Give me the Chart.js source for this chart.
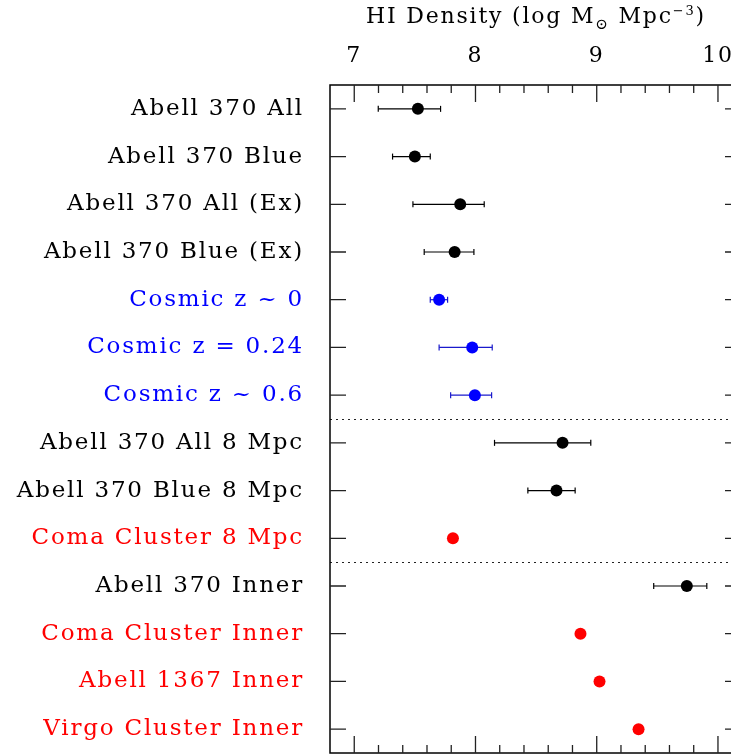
<!DOCTYPE html>
<html><head><meta charset="utf-8">
<script src="https://cdn.jsdelivr.net/npm/chart.js@4.4.0/dist/chart.umd.min.js"></script>
<style>html,body{margin:0;padding:0;background:#fff;overflow:hidden;width:731px;height:756px}canvas{display:block}</style>
</head><body><canvas id="c" width="745" height="756" style="width:745px;height:756px"></canvas>
<script>
const categories = ["Abell 370 All","Abell 370 Blue","Abell 370 All (Ex)","Abell 370 Blue (Ex)","Cosmic z ~ 0","Cosmic z = 0.24","Cosmic z ~ 0.6","Abell 370 All 8 Mpc","Abell 370 Blue 8 Mpc","Coma Cluster 8 Mpc","Abell 370 Inner","Coma Cluster Inner","Abell 1367 Inner","Virgo Cluster Inner"];
const density = [7.525,7.50,7.874,7.828,7.70,7.973,7.995,8.718,8.668,7.814,9.743,8.866,9.023,9.345];
const errLow  = [7.198,7.316,7.484,7.577,7.627,7.70,7.795,8.157,8.432,null,9.47,null,null,null];
const errHigh = [7.712,7.627,8.072,7.987,7.77,8.138,8.133,8.951,8.822,null,9.908,null,null,null];
const groups = ["a","a","a","a","c","c","c","a","a","r","a","r","r","r"];
const xTickLabels = [7,8,9,10];
const separators = [6.5, 9.5];

const labelColor = {a:"#000000", c:"#0000ff", r:"#ff0000"};
const barColor = {a:"#000000", c:"#1a1acc", r:"#cc0000"};
const FONT = "'DejaVu Serif', serif";
const LS = '1.8px';

const errDatasets = [];
categories.forEach((c,i)=>{
  if (errLow[i]===null) return;
  errDatasets.push({
    type:'scatter', showLine:true, order:2,
    data:[{x:errLow[i],y:i},{x:errHigh[i],y:i}],
    borderColor:barColor[groups[i]], borderWidth:1.2,
    pointStyle:'line', pointRotation:90, pointRadius:3,
    pointBorderColor:barColor[groups[i]], pointBorderWidth:1.2,
    pointBackgroundColor:barColor[groups[i]]
  });
});

function zeroPad(s){ s.paddingTop=0; s.paddingBottom=0; s.paddingLeft=0; s.paddingRight=0; }

const framePlugin = {
  id:'frame',
  beforeLayout(chart){ chart.ctx.letterSpacing = LS; },
  beforeDraw(chart){ chart.ctx.letterSpacing = LS; },
  beforeDatasetsDraw(chart){
    const {ctx, chartArea:a, scales:{y}} = chart;
    ctx.save();
    ctx.strokeStyle='#222'; ctx.lineWidth=1; ctx.setLineDash([2,4]);
    separators.forEach(s=>{
      const py = Math.round(y.getPixelForValue(s))+0.5;
      ctx.beginPath(); ctx.moveTo(a.left,py); ctx.lineTo(a.right,py); ctx.stroke();
    });
    ctx.restore();
  },
  afterDraw(chart){
    const {ctx, chartArea:a, scales:{x,y}} = chart;
    ctx.save();
    ctx.strokeStyle='#000'; ctx.lineWidth=1.5; ctx.setLineDash([]);
    ctx.strokeRect(a.left,a.top,a.right-a.left,a.bottom-a.top);
    ctx.lineWidth=1.3; ctx.strokeStyle='#222';
    for (let k=34;k<=51;k++){
      const v=k/5; const px=x.getPixelForValue(v);
      if (px<a.left+1||px>a.right-1) continue;
      const major = (k%5===0);
      const len = major?17:8;
      ctx.beginPath(); ctx.moveTo(px,a.top); ctx.lineTo(px,a.top+len);
      ctx.moveTo(px,a.bottom); ctx.lineTo(px,a.bottom-len); ctx.stroke();
    }
    categories.forEach((c,i)=>{
      const py=y.getPixelForValue(i);
      ctx.beginPath(); ctx.moveTo(a.left,py); ctx.lineTo(a.left+16,py);
      ctx.moveTo(a.right,py); ctx.lineTo(a.right-16,py); ctx.stroke();
    });
    ctx.letterSpacing = LS;
    ctx.fillStyle='#000'; ctx.textBaseline='alphabetic';
    const big = "22px "+FONT, small = "13px "+FONT, sun = "15px "+FONT;
    const parts = [["HI Density (log M",big,0],["\u2299",sun,6],[" Mpc",big,0],["\u22123",small,-8],[")",big,0]];
    let total=0;
    parts.forEach(p=>{ctx.font=p[1]; total+=ctx.measureText(p[0]).width;});
    let tx = 536 - total/2; const base = 23;
    parts.forEach(p=>{ctx.font=p[1]; ctx.fillText(p[0],tx,base+p[2]); tx+=ctx.measureText(p[0]).width;});
    ctx.restore();
  }
};

new Chart(document.getElementById('c'), {
  type:'scatter',
  data:{datasets:[{
    order:1,
    data:density.map((v,i)=>({x:v,y:i})),
    pointRadius:6, pointHoverRadius:6,
    pointBackgroundColor:groups.map(g=>labelColor[g]),
    pointBorderWidth:0, borderWidth:0
  }, ...errDatasets]},
  options:{
    responsive:false, maintainAspectRatio:false, animation:false, devicePixelRatio:1,
    events:[],
    layout:{autoPadding:false, padding:{left:0,top:0,right:4,bottom:3}},
    plugins:{legend:{display:false}, tooltip:{enabled:false}, title:{display:false}},
    scales:{
      x:{type:'linear', position:'top', min:6.8, max:10.19,
        grid:{display:false, drawTicks:false}, border:{display:false},
        afterBuildTicks(s){ s.ticks = xTickLabels.map(v=>({value:v})); },
        afterFit(s){ s.height = 85; zeroPad(s); },
        ticks:{font:{family:FONT,size:22}, color:'#000', padding:16, maxRotation:0, autoSkip:false,
          callback:(v)=>String(v)}
      },
      y:{type:'linear', position:'left', min:-0.5, max:categories.length-0.5, reverse:true,
        grid:{display:false, drawTicks:false}, border:{display:false},
        afterBuildTicks(s){ s.ticks = categories.map((c,i)=>({value:i})); },
        afterFit(s){ s.width = 330; zeroPad(s); },
        ticks:{font:{family:FONT,size:23}, padding:26, autoSkip:false,
          color:(ctx)=>labelColor[groups[ctx.index]]||'#000',
          callback:(v)=>categories[v]}
      }
    }
  },
  plugins:[framePlugin]
});
</script></body></html>
